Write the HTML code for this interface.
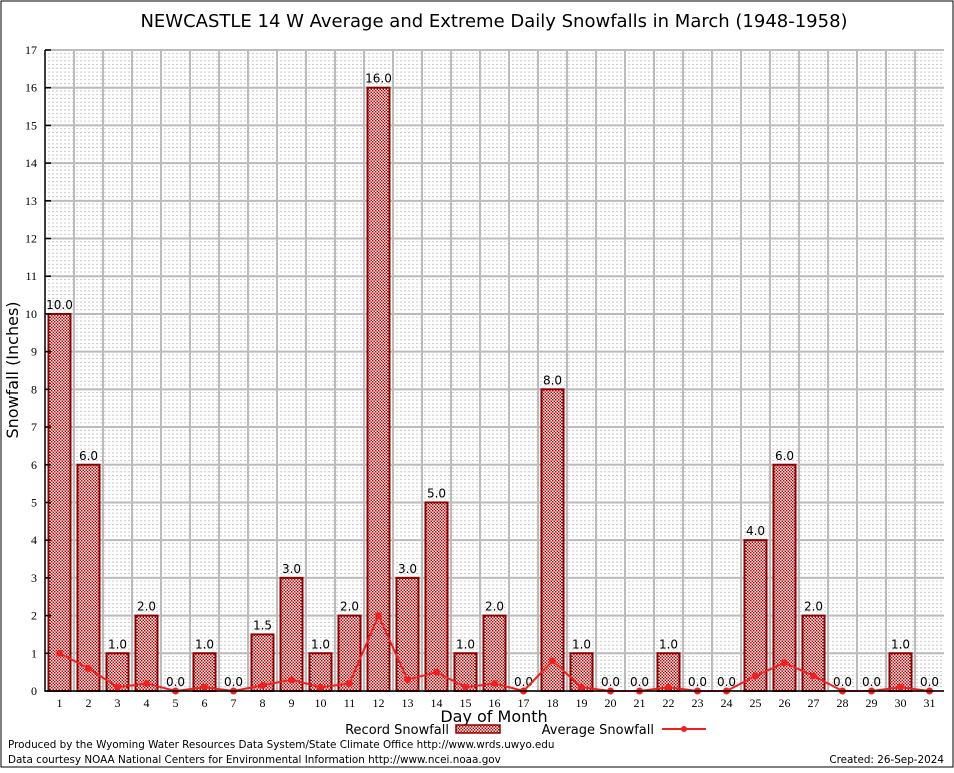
<!DOCTYPE html>
<html><head><meta charset="utf-8"><style>
body{margin:0;background:#fff;}
svg text{font-family:"DejaVu Sans","Liberation Sans",sans-serif;}
svg text.serif{font-family:"Liberation Serif",serif;}
</style></head><body>
<svg id="chart" width="954" height="768" viewBox="0 0 954 768" xmlns="http://www.w3.org/2000/svg">
<defs>
<pattern id="chk" width="3" height="3" patternUnits="userSpaceOnUse">
<rect width="3" height="3" fill="#fff"/><rect width="1.5" height="1.5" fill="#c00000"/><rect x="1.5" y="1.5" width="1.5" height="1.5" fill="#c00000"/>
</pattern>
<pattern id="dots" width="4" height="3.77" patternUnits="userSpaceOnUse">
<rect width="2" height="1" fill="#c8c8c8"/>
</pattern>
</defs>
<rect x="1" y="1" width="952" height="766" fill="#fff" stroke="#000"/>
<text x="494" y="27" font-size="18" text-anchor="middle">NEWCASTLE 14 W Average and Extreme Daily Snowfalls in March (1948-1958)</text>
<rect x="45" y="50" width="899" height="641" fill="url(#dots)"/>
<g id="grid"></g>
<g id="bars"></g>
<g id="avg"></g>
<g id="axes"></g>
<text x="18" y="370" font-size="16" text-anchor="middle" transform="rotate(-90 18 370)">Snowfall (Inches)</text>
<text x="494" y="722" font-size="16" text-anchor="middle">Day of Month</text>
<g>
<text x="449" y="734" font-size="13" text-anchor="end">Record Snowfall</text>
<rect x="456" y="725" width="44" height="8" fill="url(#chk)" stroke="#8b0000" stroke-width="1.5"/>
</g>
<g>
<text x="654" y="734" font-size="13" text-anchor="end">Average Snowfall</text>
<line x1="662" y1="729" x2="706" y2="729" stroke="#f02020" stroke-width="2"/>
<circle cx="684" cy="729" r="3" fill="#f02020"/>
</g>
<text x="8" y="748" font-size="10.4">Produced by the Wyoming Water Resources Data System/State Climate Office http://www.wrds.uwyo.edu</text>
<text x="8" y="763" font-size="10.4">Data courtesy NOAA National Centers for Environmental Information http://www.ncei.noaa.gov</text>
<text x="944" y="763" font-size="10.4" text-anchor="end">Created: 26-Sep-2024</text>
</svg>
<script>
const days=[1,2,3,4,5,6,7,8,9,10,11,12,13,14,15,16,17,18,19,20,21,22,23,24,25,26,27,28,29,30,31];
const records=[10,6,1,2,0,1,0,1.5,3,1,2,16,3,5,1,2,0,8,1,0,0,1,0,0,4,6,2,0,0,1,0];
const averages=[1.0,0.6,0.1,0.2,0,0.1,0,0.15,0.3,0.1,0.2,2.0,0.3,0.5,0.1,0.2,0,0.8,0.1,0,0,0.1,0,0,0.4,0.75,0.4,0,0,0.1,0];
const yTicks=[0,1,2,3,4,5,6,7,8,9,10,11,12,13,14,15,16,17];
const NS="http://www.w3.org/2000/svg";
const L=45,R=944,T=50,B=691,YMAX=17;
const step=(R-L)/days.length;
const xs=d=>L+step*(d-0.5);
const ys=v=>B-(B-T)*v/YMAX;
function mk(tag,attrs,parent){const e=document.createElementNS(NS,tag);for(const k in attrs)e.setAttribute(k,attrs[k]);document.getElementById(parent).appendChild(e);return e;}
yTicks.forEach(t=>{const l=mk('line',{x1:L,x2:R,y1:ys(t),y2:ys(t),stroke:'#bbb','stroke-width':2},'grid');

});
for(let i=1;i<days.length;i++){const l=mk('line',{x1:L+step*i,x2:L+step*i,y1:T,y2:B,stroke:'#bbb','stroke-width':2},'grid');

}
days.forEach((d,i)=>{const v=records[i];const x=xs(d);
if(v>0){const r=mk('rect',{x:x-11,y:ys(v),width:22,height:B-ys(v),fill:'url(#chk)',stroke:'#8b0000','stroke-width':2},'bars');

}
const t=mk('text',{x:x,y:ys(v)-5,'font-size':12,'text-anchor':'middle'},'bars');t.textContent=v.toFixed(1);

});
const pl=mk('polyline',{points:days.map((d,i)=>xs(d)+','+ys(averages[i])).join(' '),fill:'none',stroke:'#f02020','stroke-width':2},'avg');


days.forEach((d,i)=>{const c=mk('circle',{cx:xs(d),cy:ys(averages[i]),r:3.5,fill:'#f02020'},'avg');

});
const ax=mk('path',{d:`M${L},${T}V${B}H${R}`,fill:'none',stroke:'#000','stroke-width':1.5},'axes');


yTicks.forEach(t=>{const tx=mk('text',{x:L-8,y:ys(t)+4,'font-size':12,'text-anchor':'end','class':'serif'},'axes');tx.textContent=t;


mk('line',{x1:L,x2:L+6,y1:ys(t),y2:ys(t),stroke:'#000','stroke-width':1.5},'axes');});
days.forEach(d=>{const tx=mk('text',{x:xs(d),y:B+16,'font-size':12,'text-anchor':'middle','class':'serif'},'axes');tx.textContent=d;

});
</script>
</body></html>
